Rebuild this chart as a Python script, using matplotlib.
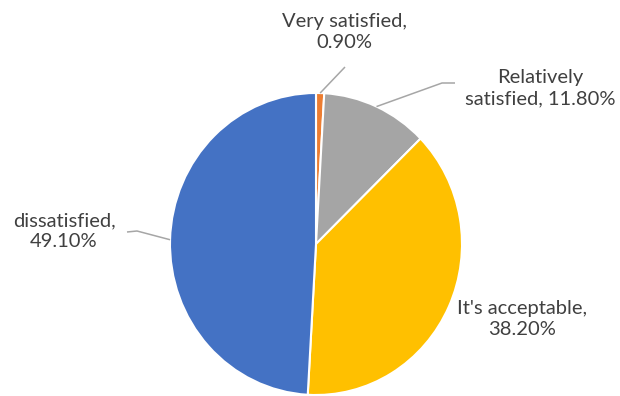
import numpy as np
import matplotlib.pyplot as plt

# Satisfaction survey shares (percent)
labels = ['Very satisfied', 'Relatively satisfied', "It's acceptable", 'dissatisfied']
values = [0.9, 11.8, 38.2, 49.1]
colors = ['#ED7D31', '#A5A5A5', '#FFC000', '#4472C4']
label_text = ['Very satisfied,\n0.90%', 'Relatively\nsatisfied, 11.80%',
              "It's acceptable,\n38.20%", 'dissatisfied,\n49.10%']

W, H = 620, 396
cx, cy = 316, 244      # pie centre in pixels (from top-left)
rx, ry = 146, 151      # the source pie is very slightly stretched

fig = plt.figure(figsize=(W / 100, H / 100), dpi=100)
ax = fig.add_axes([0, 0, 1, 1])


def px(x, y):
    # pixel coordinates -> data coordinates (pie radius = 1)
    return (x - cx) / rx, (cy - y) / ry


wedges, _ = ax.pie(values, colors=colors, startangle=90, counterclock=False,
                   radius=1, wedgeprops=dict(edgecolor='white', linewidth=1.5))
ax.set_aspect('auto')
ax.set_xlim(-cx / rx, (W - cx) / rx)
ax.set_ylim(-(H - cy) / ry, cy / ry)
ax.axis('off')

# label positions (text centre) and optional elbow point, in pixels
text_pos = [(344, 32), (540, 88), (522, 319), (64, 231)]
elbows = [None, (442, 83), None, (137, 231)]
line_ends = [(345, 67), (455, 83), None, (127, 232)]

for w, txt, tp, el, le in zip(wedges, label_text, text_pos, elbows, line_ends):
    ang = np.deg2rad((w.theta1 + w.theta2) / 2)
    ax.text(*px(*tp), txt, ha='center', va='center', fontsize=14.5,
            family='Lato', color='#404040', linespacing=1.3)
    if le is None:
        continue
    pts = [(np.cos(ang), np.sin(ang))]
    if el is not None:
        pts.append(px(*el))
    pts.append(px(*le))
    pts = np.array(pts)
    ax.plot(pts[:, 0], pts[:, 1], color='#A6A6A6', lw=1.1, solid_capstyle='butt')

fig.savefig('out.png', dpi=100)
